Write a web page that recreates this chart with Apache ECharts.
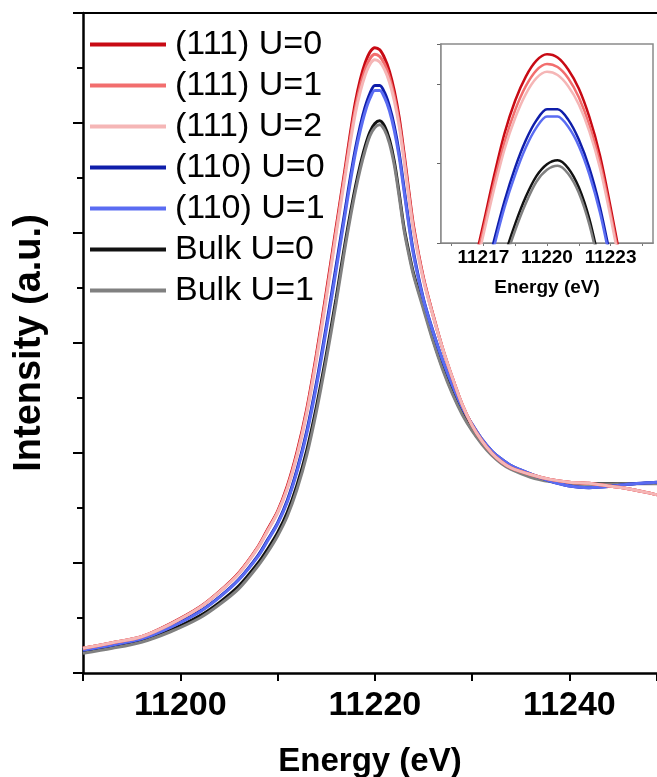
<!DOCTYPE html>
<html>
<head>
<meta charset="utf-8">
<script src="https://cdn.jsdelivr.net/npm/echarts/dist/echarts.min.js"></script>
<style>html,body{margin:0;padding:0;background:#fff;}#c{width:657px;height:777px;}</style>
</head>
<body>
<div id="c"></div>
<script>
// Energy grid (eV)
const energy = [11190, 11193, 11196, 11199, 11202, 11204, 11206, 11208, 11209, 11210, 11211, 11212, 11213, 11214, 11215, 11216, 11216.5, 11217, 11217.5, 11218, 11218.5, 11219, 11219.5, 11220, 11220.5, 11221, 11221.5, 11222, 11222.5, 11223, 11223.5, 11224, 11225, 11226, 11227, 11228, 11229, 11230, 11231, 11232, 11233, 11234, 11236, 11238, 11240, 11242, 11244, 11246, 11248, 11249];

const s111U0 = [0.045, 0.055, 0.066, 0.090, 0.120, 0.148, 0.182, 0.230, 0.262, 0.294, 0.340, 0.402, 0.480, 0.580, 0.692, 0.808, 0.866, 0.924, 0.984, 1.038, 1.079, 1.109, 1.129, 1.137, 1.133, 1.118, 1.094, 1.058, 1.010, 0.945, 0.875, 0.810, 0.718, 0.650, 0.588, 0.535, 0.487, 0.450, 0.422, 0.400, 0.384, 0.373, 0.361, 0.352, 0.347, 0.345, 0.340, 0.335, 0.328, 0.324];
const s111U1 = [0.045, 0.055, 0.066, 0.089, 0.119, 0.147, 0.181, 0.229, 0.260, 0.292, 0.337, 0.398, 0.476, 0.575, 0.686, 0.802, 0.860, 0.917, 0.975, 1.027, 1.067, 1.097, 1.117, 1.125, 1.121, 1.107, 1.083, 1.048, 1.001, 0.938, 0.869, 0.806, 0.716, 0.649, 0.588, 0.535, 0.487, 0.450, 0.422, 0.400, 0.384, 0.373, 0.361, 0.352, 0.347, 0.345, 0.340, 0.335, 0.328, 0.324];
const s111U2 = [0.045, 0.055, 0.066, 0.089, 0.119, 0.147, 0.180, 0.228, 0.259, 0.291, 0.335, 0.395, 0.472, 0.570, 0.680, 0.796, 0.853, 0.910, 0.967, 1.018, 1.057, 1.087, 1.107, 1.115, 1.111, 1.097, 1.074, 1.040, 0.994, 0.932, 0.864, 0.802, 0.714, 0.648, 0.588, 0.535, 0.487, 0.450, 0.422, 0.400, 0.384, 0.373, 0.361, 0.352, 0.347, 0.345, 0.340, 0.335, 0.328, 0.324];
const s110U0 = [0.042, 0.051, 0.062, 0.084, 0.112, 0.138, 0.170, 0.214, 0.243, 0.273, 0.314, 0.370, 0.440, 0.528, 0.630, 0.738, 0.793, 0.848, 0.903, 0.953, 0.995, 1.029, 1.054, 1.068, 1.068, 1.055, 1.030, 0.994, 0.945, 0.882, 0.818, 0.762, 0.680, 0.620, 0.567, 0.522, 0.482, 0.452, 0.425, 0.404, 0.389, 0.377, 0.362, 0.349, 0.340, 0.337, 0.339, 0.343, 0.346, 0.347];
const s110U1 = [0.042, 0.051, 0.062, 0.083, 0.111, 0.137, 0.169, 0.212, 0.241, 0.271, 0.311, 0.366, 0.435, 0.522, 0.623, 0.730, 0.785, 0.840, 0.895, 0.945, 0.986, 1.020, 1.045, 1.059, 1.059, 1.046, 1.022, 0.986, 0.938, 0.876, 0.813, 0.758, 0.678, 0.619, 0.567, 0.522, 0.482, 0.452, 0.425, 0.404, 0.389, 0.377, 0.362, 0.349, 0.340, 0.337, 0.339, 0.343, 0.346, 0.347];
const bulkU0 = [0.038, 0.047, 0.058, 0.078, 0.104, 0.128, 0.158, 0.200, 0.226, 0.255, 0.292, 0.342, 0.405, 0.485, 0.578, 0.680, 0.735, 0.788, 0.838, 0.884, 0.924, 0.958, 0.984, 0.999, 1.004, 0.994, 0.970, 0.930, 0.872, 0.810, 0.765, 0.725, 0.665, 0.605, 0.553, 0.509, 0.472, 0.442, 0.418, 0.398, 0.383, 0.372, 0.358, 0.349, 0.345, 0.344, 0.344, 0.344, 0.345, 0.345];
const bulkU1 = [0.036, 0.045, 0.056, 0.075, 0.100, 0.124, 0.153, 0.195, 0.220, 0.249, 0.285, 0.334, 0.396, 0.476, 0.569, 0.671, 0.726, 0.780, 0.830, 0.876, 0.916, 0.950, 0.977, 0.992, 0.997, 0.987, 0.963, 0.923, 0.866, 0.805, 0.760, 0.721, 0.661, 0.602, 0.550, 0.506, 0.469, 0.440, 0.416, 0.396, 0.381, 0.370, 0.356, 0.348, 0.344, 0.343, 0.343, 0.344, 0.344, 0.344];

const legendNames = ['(111) U=0', '(111) U=1', '(111) U=2', '(110) U=0', '(110) U=1', 'Bulk U=0', 'Bulk U=1'];
const mainTickLabels = [11200, 11220, 11240];
const insetTickLabels = [11217, 11220, 11223];
const insetMinorTicks = [11215.5, 11217, 11218.5, 11220, 11221.5, 11223, 11224.5];

// drawing order (last on top)
const seriesDefs = [
  {name: 'Bulk U=0', data: bulkU0, color: '#111111'},
  {name: 'Bulk U=1', data: bulkU1, color: '#808080'},
  {name: '(110) U=0', data: s110U0, color: '#0f1eaa'},
  {name: '(110) U=1', data: s110U1, color: '#5a6cf2'},
  {name: '(111) U=0', data: s111U0, color: '#c80a14'},
  {name: '(111) U=1', data: s111U1, color: '#f26e6e'},
  {name: '(111) U=2', data: s111U2, color: '#f5b6b6'}
];

const FONT = "'Liberation Sans', Arial, sans-serif";
const series = [];
seriesDefs.forEach(d => {
  const pts = energy.map((e, i) => [e, d.data[i]]);
  series.push({
    name: d.name, type: 'line', xAxisIndex: 0, yAxisIndex: 0, data: pts,
    showSymbol: false, symbol: 'none', smooth: 0.3,
    color: d.color, lineStyle: {color: d.color, width: 3}, z: 3
  });
  series.push({
    name: d.name, type: 'line', xAxisIndex: 2, yAxisIndex: 1, data: pts,
    showSymbol: false, symbol: 'none', smooth: 0.3, clip: true,
    color: d.color, lineStyle: {color: d.color, width: 2.5}, z: 5
  });
});

const chart = echarts.init(document.getElementById('c'), null, {renderer: 'canvas'});
chart.setOption({
  animation: false,
  backgroundColor: '#ffffff',
  textStyle: {fontFamily: FONT},
  legend: {
    orient: 'vertical', left: 90, top: 27, padding: 0,
    icon: 'rect', itemWidth: 76, itemHeight: 4, itemGap: 6,
    data: legendNames,
    textStyle: {fontSize: 34, color: '#000', fontFamily: FONT, lineHeight: 35, padding: [0, 0, 0, 4]}
  },
  grid: [
    {left: 83, top: 13, right: 0, bottom: 104, containLabel: false, outerBoundsMode: 'none'},
    {left: 441, top: 44, width: 212, height: 199, containLabel: false, outerBoundsMode: 'none', show: true, backgroundColor: '#ffffff', borderColor: '#8a8a8a', borderWidth: 1.5, z: 4}
  ],
  xAxis: [
    {
      gridIndex: 0, type: 'value', min: 11190, max: 11249, interval: 10, position: 'bottom',
      axisLine: {show: true, onZero: false, lineStyle: {color: '#000', width: 2.5}},
      axisTick: {show: true, length: 8, lineStyle: {color: '#000', width: 2}},
      axisLabel: {
        fontSize: 34, fontWeight: 'bold', color: '#000', margin: 16, fontFamily: FONT,
        formatter: v => (mainTickLabels.indexOf(v) >= 0 ? String(v) : '')
      },
      splitLine: {show: false},
      name: 'Energy (eV)', nameLocation: 'middle', nameGap: 72,
      nameTextStyle: {fontSize: 33, fontWeight: 'bold', color: '#000', fontFamily: FONT}
    },
    {
      gridIndex: 0, type: 'value', min: 11190, max: 11249, position: 'top',
      axisLine: {show: true, onZero: false, lineStyle: {color: '#000', width: 2}},
      axisTick: {show: false}, axisLabel: {show: false}, splitLine: {show: false}
    },
    {
      gridIndex: 1, type: 'value', min: 11215, max: 11225, position: 'bottom',
      axisLine: {show: true, onZero: false, lineStyle: {color: '#444', width: 1.5}},
      axisTick: {show: true, length: 3, customValues: insetMinorTicks, lineStyle: {color: '#777', width: 1}},
      axisLabel: {
        customValues: insetTickLabels, fontSize: 19, fontWeight: 'bold', color: '#000', margin: 5, fontFamily: FONT,
        formatter: v => String(v)
      },
      splitLine: {show: false},
      name: 'Energy (eV)', nameLocation: 'middle', nameGap: 35,
      nameTextStyle: {fontSize: 19, fontWeight: 'bold', color: '#000', fontFamily: FONT}
    }
  ],
  yAxis: [
    {
      gridIndex: 0, type: 'value', min: 0, max: 1.2, interval: 0.2,
      axisLine: {show: true, onZero: false, lineStyle: {color: '#000', width: 2.5}},
      axisTick: {show: true, length: 10, lineStyle: {color: '#000', width: 2}},
      minorTick: {show: true, splitNumber: 2, length: 6, lineStyle: {color: '#000', width: 2}},
      axisLabel: {show: false}, splitLine: {show: false}, minorSplitLine: {show: false},
      name: 'Intensity (a.u.)', nameLocation: 'middle', nameGap: 34,
      nameTextStyle: {fontSize: 38, fontWeight: 'bold', color: '#000', fontFamily: FONT}
    },
    {
      gridIndex: 1, type: 'value', min: 0.9, max: 1.15, interval: 0.1,
      axisLine: {show: true, onZero: false, lineStyle: {color: '#8a8a8a', width: 1.5}},
      axisTick: {show: true, length: 4, lineStyle: {color: '#666', width: 1}},
      axisLabel: {show: false}, splitLine: {show: false}
    }
  ],
  series: series
});
</script>
</body>
</html>
